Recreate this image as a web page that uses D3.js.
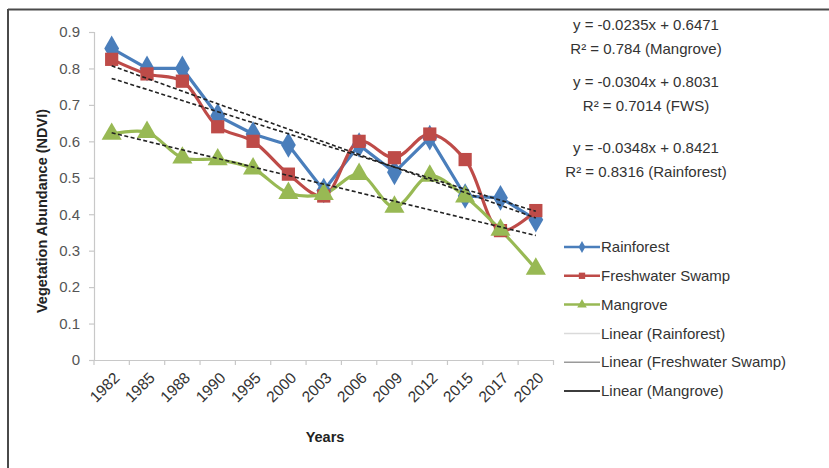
<!DOCTYPE html>
<html>
<head>
<meta charset="utf-8">
<script src="https://cdn.jsdelivr.net/npm/d3@7"></script>
<style>
  html, body { margin: 0; padding: 0; background: #fff; }
  svg { display: block; font-family: "Liberation Sans", Arial, sans-serif; }
</style>
</head>
<body>
<svg id="chart" width="829" height="468"></svg>
<script>
// NDVI by survey year for three vegetation types
const years = ["1982","1985","1988","1990","1995","2000","2003","2006","2009","2012","2015","2017","2020"];
const rainforest = [0.855, 0.80, 0.80, 0.67, 0.62, 0.59, 0.465, 0.59, 0.515, 0.61, 0.45, 0.445, 0.385];
const freshwater = [0.825, 0.785, 0.765, 0.64, 0.60, 0.51, 0.45, 0.60, 0.555, 0.62, 0.55, 0.355, 0.41];
const mangrove   = [0.62, 0.625, 0.555, 0.55, 0.525, 0.458, 0.455, 0.51, 0.42, 0.505, 0.448, 0.357, 0.25];

// Linear trend coefficients (x = category index starting at 1)
const trendSlopes     = [-0.0348, -0.0304, -0.0235];
const trendIntercepts = [0.8421, 0.8031, 0.6471];
const trendR2         = ["0.8316", "0.7014", "0.784"];
const trendTags       = ["Rainforest", "FWS", "Mangrove"];

const yTicks = [0, 0.1, 0.2, 0.3, 0.4, 0.5, 0.6, 0.7, 0.8, 0.9];

const seriesNames  = ["Rainforest", "Freshwater Swamp", "Mangrove"];
const seriesColors = ["#4a7ebb", "#be4b48", "#98b954"];
const seriesShapes = [d3.symbolDiamond, d3.symbolSquare, d3.symbolTriangle];
const seriesValues = [rainforest, freshwater, mangrove];
const seriesCurves = [d3.curveLinear, d3.curveCatmullRom, d3.curveCatmullRom];

const svg = d3.select("#chart");

// frame
svg.append("line").attr("x1", 8).attr("y1", 9.5).attr("x2", 829).attr("y2", 9.5)
  .attr("stroke", "#4a4a4a").attr("stroke-width", 2);
svg.append("line").attr("x1", 8).attr("y1", 9).attr("x2", 8).attr("y2", 468)
  .attr("stroke", "#4a4a4a").attr("stroke-width", 2);

const x = d3.scaleBand().domain(years).range([94, 553.5]).paddingInner(0).paddingOuter(0);
const y = d3.scaleLinear().domain([0, 0.9]).range([360, 32]);
const cx = d => x(d) + x.bandwidth() / 2;

// y axis
const yAxis = svg.append("g").attr("transform", "translate(94,0)")
  .call(d3.axisLeft(y).tickValues(yTicks).tickSize(5).tickPadding(9)
    .tickFormat(d => d === 0 ? "0" : d3.format(".1f")(d)));
yAxis.select(".domain").attr("stroke", "#c8c8c8").attr("stroke-width", 1.2);
yAxis.selectAll(".tick line").attr("stroke", "#c8c8c8").attr("stroke-width", 1.2);
yAxis.selectAll(".tick text").attr("fill", "#555").style("font-size", "15px");

// x axis with tick marks on category boundaries
const xAxis = svg.append("g").attr("transform", "translate(0,360)")
  .call(d3.axisBottom(x).tickSize(0).tickPadding(0));
xAxis.select(".domain").attr("stroke", "#c8c8c8").attr("stroke-width", 1.2);
xAxis.selectAll(".tick text")
  .attr("text-anchor", "end")
  .attr("fill", "#333")
  .style("font-size", "15.5px")
  .attr("transform", "translate(5,15) rotate(-45)")
  .attr("dy", "0.35em")
  .attr("y", 0);
const bounds = years.map(d => x(d)).concat([x.range()[1]]);
xAxis.selectAll("line.bound").data(bounds).join("line").attr("class", "bound")
  .attr("x1", d => d).attr("x2", d => d).attr("y1", 0).attr("y2", 5)
  .attr("stroke", "#c8c8c8").attr("stroke-width", 1.2);

// axis titles
svg.append("text").attr("transform", "translate(47,211) rotate(-90)")
  .attr("text-anchor", "middle").attr("font-weight", "bold").attr("fill", "#222")
  .style("font-size", "14.5px").text("Vegetation Abundance (NDVI)");
svg.append("text").attr("x", 325).attr("y", 442)
  .attr("text-anchor", "middle").attr("font-weight", "bold").attr("fill", "#222")
  .style("font-size", "14.5px").text("Years");

// data series
seriesValues.forEach((vals, si) => {
  const line = d3.line().x((d, i) => cx(years[i])).y(d => y(d)).curve(seriesCurves[si]);
  svg.append("path").datum(vals).attr("d", line)
    .attr("fill", "none").attr("stroke", seriesColors[si]).attr("stroke-width", 3.2)
    .attr("stroke-linejoin", "round");
});
seriesValues.forEach((vals, si) => {
  const sizes = [190, 175, 175];
  svg.append("g").selectAll("path").data(vals).join("path")
    .attr("transform", (d, i) => `translate(${cx(years[i])},${y(d)})`)
    .attr("d", d3.symbol(seriesShapes[si], sizes[si]))
    .attr("fill", seriesColors[si]);
});

// trend lines across the first to last category
trendSlopes.forEach((m, ti) => {
  const b = trendIntercepts[ti];
  const pts = [1, years.length].map(k => [cx(years[k - 1]), y(m * k + b)]);
  svg.append("line")
    .attr("x1", pts[0][0]).attr("y1", pts[0][1]).attr("x2", pts[1][0]).attr("y2", pts[1][1])
    .attr("stroke", "#222").attr("stroke-width", 1.6).attr("stroke-dasharray", "4,2.5");
});

// trend equations
const eqCenter = 646;
const eqRows = [[25, 49], [82, 106], [148, 172]];
const eqOrder = [2, 1, 0];
eqOrder.forEach((ti, r) => {
  const m = trendSlopes[ti], b = trendIntercepts[ti];
  svg.append("text").attr("x", eqCenter).attr("y", eqRows[r][0])
    .attr("text-anchor", "middle").attr("dy", "0.35em").attr("fill", "#333")
    .style("font-size", "15px")
    .text(`y = ${m}x + ${b}`);
  svg.append("text").attr("x", eqCenter).attr("y", eqRows[r][1])
    .attr("text-anchor", "middle").attr("dy", "0.35em").attr("fill", "#333")
    .style("font-size", "15px")
    .text(`R² = ${trendR2[ti]} (${trendTags[ti]})`);
});

// legend
const legendItems = [
  { label: "Rainforest", color: seriesColors[0], shape: seriesShapes[0], w: 2.5 },
  { label: "Freshwater Swamp", color: seriesColors[1], shape: seriesShapes[1], w: 2.5 },
  { label: "Mangrove", color: seriesColors[2], shape: seriesShapes[2], w: 2.5 },
  { label: "Linear (Rainforest)", color: "#dadada", shape: null, w: 1.5 },
  { label: "Linear (Freshwater Swamp)", color: "#9a9a9a", shape: null, w: 1.5 },
  { label: "Linear (Mangrove)", color: "#3c3c3c", shape: null, w: 1.8 }
];
const lg = svg.append("g");
legendItems.forEach((it, i) => {
  const ly = 247 + i * 28.8;
  lg.append("line").attr("x1", 564).attr("x2", 600).attr("y1", ly).attr("y2", ly)
    .attr("stroke", it.color).attr("stroke-width", it.w);
  if (it.shape) {
    lg.append("path").attr("transform", `translate(582,${ly})`)
      .attr("d", d3.symbol(it.shape, 40)).attr("fill", it.color);
  }
  lg.append("text").attr("x", 601).attr("y", ly).attr("dy", "0.35em")
    .attr("fill", "#333").style("font-size", "15px").text(it.label);
});
</script>
</body>
</html>
